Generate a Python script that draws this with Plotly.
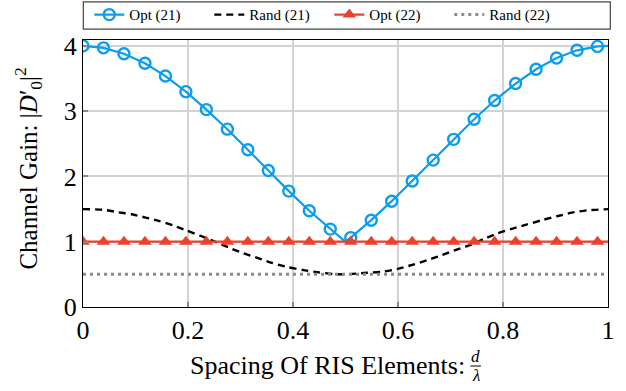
import plotly.graph_objects as go

# ---------------- data ----------------
x_opt = [0.000, 0.039, 0.078, 0.118, 0.157, 0.196, 0.235, 0.275, 0.314, 0.353,
         0.392, 0.431, 0.471, 0.500, 0.510, 0.549, 0.588, 0.627, 0.667, 0.706,
         0.745, 0.784, 0.824, 0.863, 0.902, 0.941, 0.980, 1.000]
opt21 = [4.000, 3.970, 3.880, 3.734, 3.538, 3.299, 3.024, 2.724, 2.409, 2.090,
         1.775, 1.474, 1.193, 1.000, 1.063, 1.330, 1.621, 1.930, 2.250, 2.568,
         2.877, 3.163, 3.423, 3.642, 3.814, 3.932, 3.992, 4.000]
opt22 = [1.0, 1.0, 1.0, 1.0, 1.0, 1.0, 1.0, 1.0, 1.0, 1.0,
         1.0, 1.0, 1.0, 1.0, 1.0, 1.0, 1.0, 1.0, 1.0, 1.0,
         1.0, 1.0, 1.0, 1.0, 1.0, 1.0, 1.0, 1.0]
marked = [1, 1, 1, 1, 1, 1, 1, 1, 1, 1,
          1, 1, 1, 0, 1, 1, 1, 1, 1, 1,
          1, 1, 1, 1, 1, 1, 1, 0]

x_rand21 = [0.000, 0.039, 0.068, 0.093, 0.119, 0.144, 0.173, 0.198, 0.227, 0.255,
            0.281, 0.306, 0.335, 0.360, 0.390, 0.420, 0.449, 0.477, 0.500, 0.541,
            0.570, 0.598, 0.627, 0.655, 0.684, 0.712, 0.734, 0.766, 0.790, 0.820,
            0.846, 0.874, 0.903, 0.931, 0.960, 0.992, 1.000]
rand21 = [1.50, 1.49, 1.45, 1.42, 1.37, 1.32, 1.245, 1.17, 1.08, 0.99,
          0.90, 0.82, 0.745, 0.675, 0.61, 0.565, 0.53, 0.505, 0.50, 0.525,
          0.54, 0.58, 0.645, 0.715, 0.795, 0.88, 0.94, 1.05, 1.13, 1.205,
          1.265, 1.33, 1.39, 1.445, 1.48, 1.495, 1.50]

x_rand22 = [0.0, 0.1, 0.2, 0.3, 0.4, 0.5, 0.6, 0.7, 0.8, 0.9, 1.0]
rand22 = [0.50, 0.50, 0.505, 0.50, 0.50, 0.50, 0.50, 0.505, 0.50, 0.50, 0.50]

x_ticks = [0, 0.2, 0.4, 0.6, 0.8, 1]
x_ticklabels = ["0", "0.2", "0.4", "0.6", "0.8", "1"]
y_ticks = [0, 1, 2, 3, 4]

BLUE = "#0a9df0"
RED = "#e8432b"
GRAY = "#8c8c8c"
FONT = "Liberation Serif"

blue_cols = [BLUE if m else "rgba(0,0,0,0)" for m in marked]
red_cols = [RED if m else "rgba(0,0,0,0)" for m in marked]

fig = go.Figure()
fig.add_trace(go.Scatter(
    x=x_opt, y=opt21, name="Opt (21)", mode="lines+markers",
    line=dict(color=BLUE, width=2.2),
    marker=dict(symbol="circle-open", size=11, color=blue_cols,
                line=dict(width=2.4, color=blue_cols)),
))
fig.add_trace(go.Scatter(
    x=x_rand21, y=rand21, name="Rand (21)", mode="lines",
    line=dict(color="black", width=2.4, dash="7px,5px", shape="spline", smoothing=0.6),
))
fig.add_trace(go.Scatter(
    x=x_opt, y=opt22, name="Opt (22)", mode="lines+markers",
    line=dict(color=RED, width=2.2),
    marker=dict(symbol="triangle-up", size=12, color=red_cols,
                line=dict(width=0)),
))
fig.add_trace(go.Scatter(
    x=x_rand22, y=rand22, name="Rand (22)", mode="lines",
    line=dict(color=GRAY, width=3, dash="3px,4px"),
))

# legend frame spanning plot width
fig.add_shape(type="rect", xref="paper", yref="paper",
              x0=0.0006, x1=1.0044, y0=1.041, y1=1.143,
              line=dict(color="#444", width=1.2), fillcolor="white", layer="below")

# y-axis title
fig.add_annotation(xref="paper", yref="paper", x=-0.104, y=0.52,
                   text="Channel Gain: |<i>D</i>′<sub>0</sub>|<sup>2</sup>",
                   textangle=-90, showarrow=False, xanchor="center", yanchor="middle",
                   font=dict(family=FONT, size=25, color="black"))

# x-axis title with stacked fraction
fig.add_annotation(xref="paper", yref="paper", x=0.2, y=-0.218,
                   text="Spacing Of RIS Elements:", showarrow=False,
                   xanchor="left", yanchor="middle",
                   font=dict(family=FONT, size=26, color="black"))
fig.add_annotation(xref="paper", yref="paper", x=0.748, y=-0.184,
                   text="<i>d</i>", showarrow=False, xanchor="center", yanchor="middle",
                   font=dict(family=FONT, size=17, color="black"))
fig.add_annotation(xref="paper", yref="paper", x=0.748, y=-0.258,
                   text="<i>λ</i>", showarrow=False, xanchor="center", yanchor="middle",
                   font=dict(family=FONT, size=17, color="black"))
fig.add_shape(type="line", xref="paper", yref="paper",
              x0=0.738, x1=0.758, y0=-0.221, y1=-0.221,
              line=dict(color="black", width=1))

axis_common = dict(
    showline=True, linecolor="black", linewidth=1.2, mirror=True,
    showgrid=True, gridcolor="#d3d3d3", gridwidth=1.5,
    ticks="inside", ticklen=5, tickcolor="#888", tickwidth=1.5,
    zeroline=False, automargin=False,
    tickfont=dict(family=FONT, size=26, color="black"),
)

fig.update_layout(
    width=626, height=391,
    margin=dict(l=83, r=18, t=40, b=84),
    paper_bgcolor="white", plot_bgcolor="white",
    font=dict(family=FONT, color="black"),
    showlegend=True,
    legend=dict(orientation="h", x=0.012, xanchor="left",
                yref="container", y=0.962, yanchor="middle",
                bgcolor="rgba(0,0,0,0)", borderwidth=0,
                font=dict(family=FONT, size=15, color="black"),
                entrywidth=75, entrywidthmode="pixels",
                tracegroupgap=0),
    xaxis=dict(range=[0, 1], tickvals=x_ticks, ticktext=x_ticklabels, **axis_common),
    yaxis=dict(range=[0, 4.09], tickvals=y_ticks, **axis_common),
)

fig.write_html("out.html", config={"displayModeBar": False},
               post_script="document.body.style.margin='0px';")
